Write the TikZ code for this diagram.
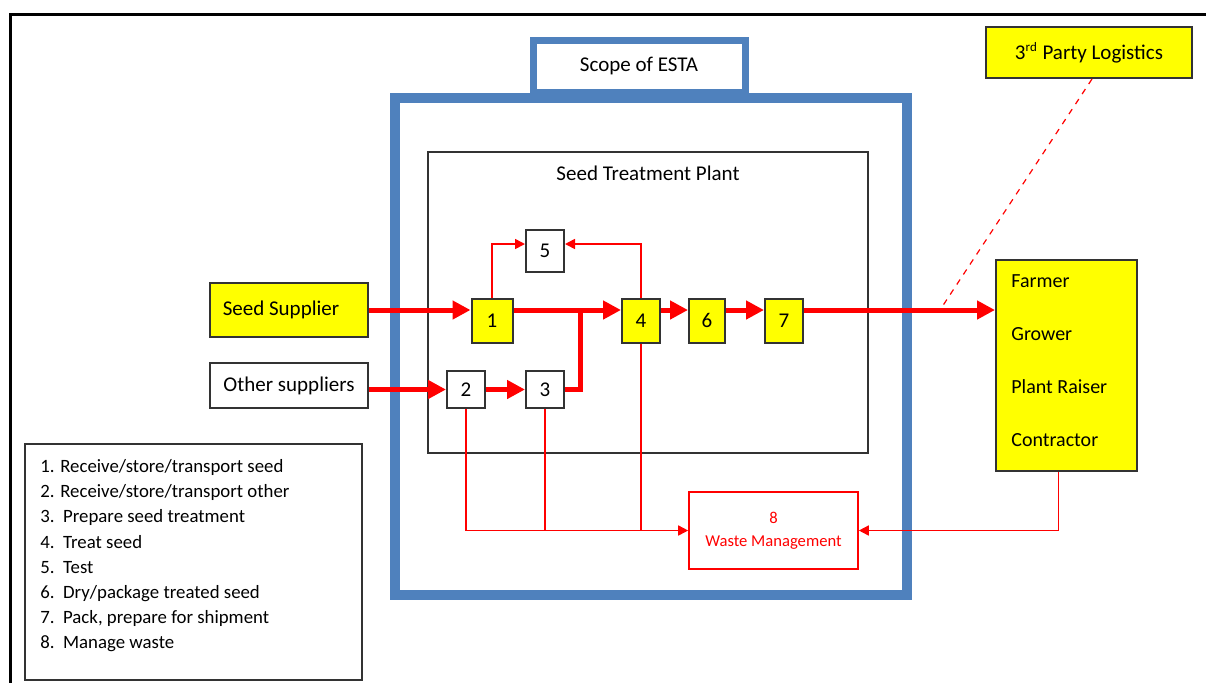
\documentclass[tikz,border=0pt]{standalone}
\usepackage{fontspec}
\setmainfont{Carlito}
\usetikzlibrary{positioning, arrows.meta}
\definecolor{establue}{RGB}{79,129,189}
\definecolor{boxyellow}{RGB}{255,255,0}
\tikzset{
  flow/.style={red, line width=2.5pt, -{Triangle[length=9pt, width=9pt]}}, % thick main product flow
  link/.style={red, line width=0.8pt, -{Triangle[length=5pt, width=5pt]}}, % thin side flows
  stepbox/.style={draw=black!80, line width=1pt, fill=white, inner sep=0pt,
    minimum width=19pt, minimum height=22pt, font=\fontsize{10.5}{12}\selectfont}, % the numbered steps
  partner/.style={draw=black!80, line width=1pt, fill=white, inner sep=0pt,
    minimum width=79pt, font=\fontsize{10.5}{12}\selectfont}, % boxes outside the plant
}

\begin{document}
\begin{tikzpicture}[x=0.5pt, y=-0.5pt]
  \useasboundingbox (0,0) rectangle (1206,682);
  \draw[line width=1.5pt] (10,14) rectangle (1240,720);

  % scope of ESTA
  \draw[establue, line width=5pt] (395,98) rectangle (907,595);
  \node[draw=establue, line width=3.5pt, fill=white, minimum width=106pt, minimum height=26pt,
    font=\fontsize{10.5}{12}\selectfont] (scope) at (639,66) {Scope of ESTA};

  % seed treatment plant
  \node[draw=black!80, line width=1pt, minimum width=220pt, minimum height=150.5pt] (plant) at (648,302.5) {};
  \node[font=\fontsize{10.5}{12}\selectfont, below=4pt of plant.north] (plantname) {Seed Treatment Plant};

  % steps
  \node[stepbox, fill=boxyellow, minimum width=20.5pt] (s1) at (492,320.5) {1};
  \node[stepbox, minimum height=18.5pt] (s2) at (466,389.5) {2};
  \node[stepbox, minimum height=18.5pt] (s3) at (545,389.5) {3};
  \node[stepbox, fill=boxyellow] (s4) at (641,320.5) {4};
  \node[stepbox, minimum height=21pt] (s5) at (545,251) {5};
  \node[stepbox, fill=boxyellow, minimum width=18pt] (s6) at (707,320.5) {6};
  \node[stepbox, fill=boxyellow] (s7) at (784,320.5) {7};
  \node[draw=red, line width=0.8pt, text=red, minimum width=84.5pt, minimum height=38.5pt, align=center,
    font=\fontsize{8.3}{11.5}\selectfont] (waste) at (773.5,530.5) {8\\Waste Management};

  % partners
  \node[partner, fill=boxyellow, minimum height=27pt] (seed) at (289,310) {\hspace*{-8pt}Seed Supplier};
  \node[partner, minimum height=22.5pt] (other) at (289,385.5) {Other suppliers};
  \node[partner, fill=boxyellow, minimum width=103pt, minimum height=25.5pt] (tpl) at (1089,52.5)
    {3\textsuperscript{\fontsize{6.5}{7}\selectfont rd} Party Logistics};
  \node[partner, fill=boxyellow, minimum width=70.5pt, minimum height=105.5pt] (users) at (1066.5,365.5) {};
  \node[anchor=west, inner sep=0pt, align=left, font=\fontsize{10}{26.5}\selectfont] (userlist)
    at ([xshift=8pt, yshift=2.5pt]users.west) {Farmer\\Grower\\Plant Raiser\\Contractor};

  % legend
  \draw[black!80, line width=1pt] (25,444) rectangle (362,680);
  \node[anchor=north west, inner sep=0pt, align=left, font=\fontsize{9.4}{12.6}\selectfont] (legend) at (40,459)
    {1. Receive/store/transport seed\\
     2. Receive/store/transport other\\
     3.\ \ Prepare seed treatment\\
     4.\ \ Treat seed\\
     5.\ \ Test\\
     6.\ \ Dry/package treated seed\\
     7.\ \ Pack, prepare for shipment\\
     8.\ \ Manage waste};

  % main flow
  \coordinate (join) at (580,310);
  \coordinate (meet) at (940,310);
  \draw[flow] (seed.east) -- (seed.east -| s1.west);
  \draw[flow] (seed.east -| s1.east) -- (seed.east -| s4.west);
  \draw[flow] (seed.east -| s4.east) -- (seed.east -| s6.west);
  \draw[flow] (seed.east -| s6.east) -- (seed.east -| s7.west);
  \draw[flow] (seed.east -| s7.east) -- (seed.east -| users.west);
  \draw[flow] (other.east |- s2.west) -- (s2.west);
  \draw[flow] (s2.east) -- (s3.west);
  \draw[red, line width=2.5pt] (s3.east) -| (join);

  % side flows
  \draw[link] (s1.north) |- ([yshift=3.5pt]s5.west);
  \draw[link] (s4.north) |- ([yshift=3.5pt]s5.east);
  \draw[link] (s2.south) |- (waste.west);
  \draw[red, line width=0.8pt] (s3.south) -- (s3.south |- waste.west);
  \draw[red, line width=0.8pt] (s4.south) -- (s4.south |- waste.west);
  \draw[link] ([xshift=-4pt]users.south) |- (waste.east);
  \draw[red, line width=0.6pt, dashed] ([xshift=1.5pt]tpl.south) -- (meet);
\end{tikzpicture}
\end{document}
